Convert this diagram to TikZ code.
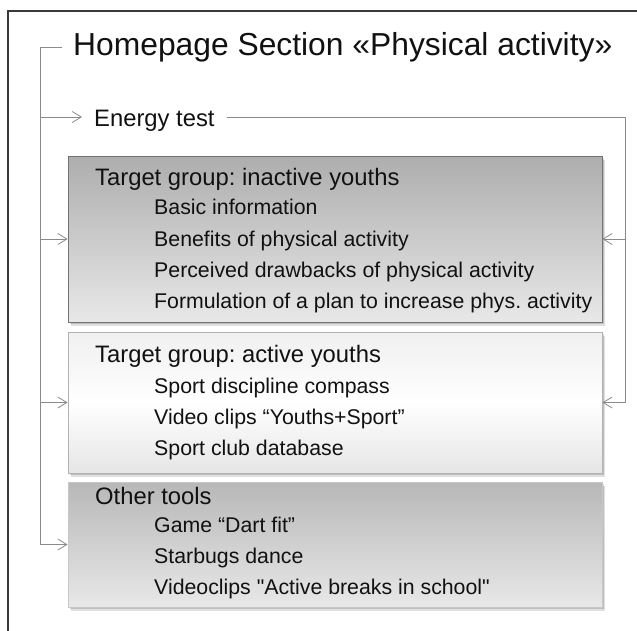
\documentclass[tikz,border=0pt]{standalone}
\usepackage{fontspec}
\defaultfontfeatures{}
\setmainfont{Liberation Sans}[Ligatures=TeXOff]
\usetikzlibrary{arrows.meta,shadows,calc}
\definecolor{conncol}{HTML}{8A8A8A}
\definecolor{framecol}{HTML}{3A3A3A}
\definecolor{txt}{HTML}{111111}
\tikzset{
  conn/.style={draw=conncol, line width=0.9pt},
  tip/.style={-{Straight Barb[length=9pt,width=11pt,line width=0.8pt]}},
  framestyle/.style={draw=framecol, line width=1.4pt},
  boxbase/.style={rectangle, minimum width=534pt, inner sep=0pt,
    drop shadow={shadow xshift=3pt, shadow yshift=-3.5pt, fill=black, opacity=0.12},
    drop shadow={shadow xshift=1.5pt, shadow yshift=-2pt, fill=black, opacity=0.15}},
  boxA/.style={boxbase, draw=black!55, line width=0.8pt, top color=black!32, bottom color=black!9},
  boxB/.style={boxbase, draw=black!30, line width=0.8pt, top color=black!6, bottom color=black!10, middle color=white},
  boxC/.style={boxbase, draw=black!22, line width=0.8pt, top color=black!28, bottom color=black!9},
  titletext/.style={anchor=base west, inner sep=0pt, text=txt, font=\fontsize{31.8}{38}\selectfont},
  headtext/.style={anchor=base west, inner sep=0pt, text=txt, font=\fontsize{23.8}{28}\selectfont},
  itemtext/.style={anchor=base west, inner sep=0pt, text=txt, font=\fontsize{21.3}{26}\selectfont},
}
\begin{document}
\frenchspacing
\begin{tikzpicture}[x=1pt,y=-1pt]
\useasboundingbox (0,0) rectangle (637,630);
\fill[white] (0,0) rectangle (637,630);
% outer frame
\draw[framestyle] (8,631) -- (8,11) -- (638,11);
% boxes
\node[boxA, minimum height=166pt] (b1) at (335,239) {};
\node[boxB, minimum height=141pt] (b2) at (335,402.5) {};
\node[boxC, minimum height=125pt] (b3) at (335,544.5) {};
% title and energy test
\node[titletext] (title) at (73,55) {Homepage Section «Physical activity»};
\node[headtext, inner xsep=12pt] (energy) at (82,126) {Energy test};
% box 1 texts
\node[headtext] (h1) at (95,185) {Target group: inactive youths};
\node[itemtext] (i11) at (154,214) {Basic information};
\node[itemtext] (i12) at (154,246) {Benefits of physical activity};
\node[itemtext] (i13) at (154,277) {Perceived drawbacks of physical activity};
\node[itemtext] (i14) at (154,308) {Formulation of a plan to increase phys. activity};
% box 2 texts
\node[headtext] (h2) at (95,362) {Target group: active youths};
\node[itemtext] (i21) at (154,393) {Sport discipline compass};
\node[itemtext] (i22) at (154,424) {Video clips “Youths+Sport”};
\node[itemtext] (i23) at (154,455) {Sport club database};
% box 3 texts
\node[headtext] (h3) at (95,504) {Other tools};
\node[itemtext] (i31) at (154,532) {Game “Dart fit”};
\node[itemtext] (i32) at (154,563) {Starbugs dance};
\node[itemtext] (i33) at (154,594) {Videoclips "Active breaks in school"};
% connector coordinates
\coordinate (tl) at (62,47);
\coordinate (lc) at (40,47);
\coordinate (et) at (40,117);
\coordinate (rt) at (625,117);
% left connectors
\draw[conn,tip] (tl) -| (lc |- b3.west) -- (b3.west);
\draw[conn,tip] (et) -- (energy.west |- et);
\draw[conn,tip] (lc |- b1.west) -- (b1.west);
\draw[conn,tip] (lc |- b2.west) -- (b2.west);
% right connectors
\draw[conn,tip] (energy.east |- et) -- (rt) |- (b2.east);
\draw[conn,tip] (rt |- b1.east) -- (b1.east);
\end{tikzpicture}
\end{document}
